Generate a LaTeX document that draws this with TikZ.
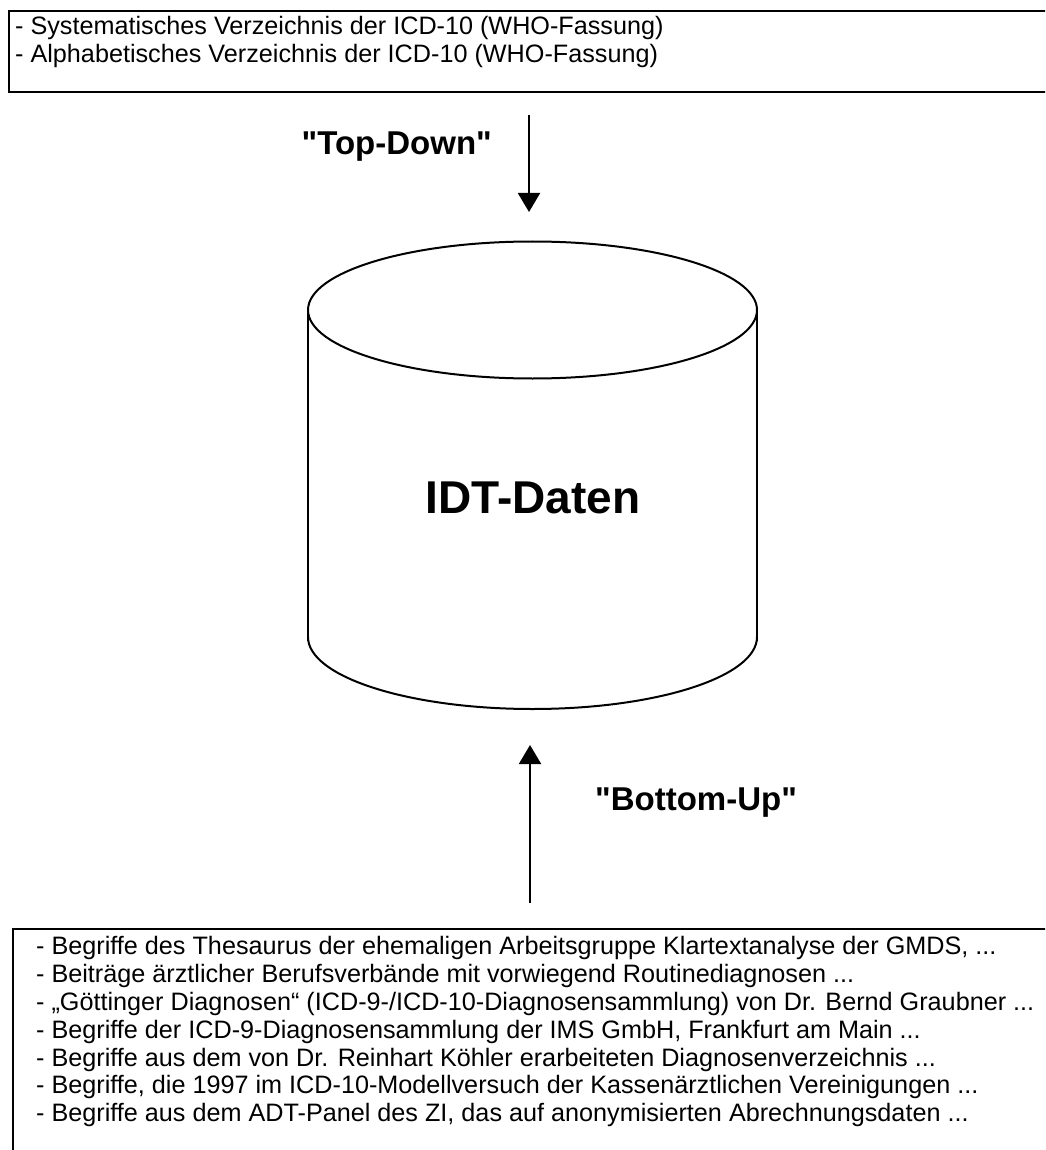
\documentclass[tikz,border=0pt]{standalone}
\usepackage{fontspec}
\setmainfont{Liberation Sans}[Ligatures=TeXOff]
\usetikzlibrary{arrows.meta}
\begin{document}
\begin{tikzpicture}[x=1pt,y=-1pt,
  frame/.style={draw, line width=2pt, inner sep=0pt, anchor=north west},
  entry/.style={anchor=base west, inner sep=0pt, font=\fontsize{25.2}{28}\selectfont},
  flowlabel/.style={inner sep=0pt, font=\bfseries\fontsize{33}{36}\selectfont},
  flow/.style={line width=2pt, -{Triangle[width=22pt,length=19pt]}},
  cyl/.style={line width=2pt}]
\useasboundingbox (0,0) rectangle (1045,1150);
\clip (0,0) rectangle (1045,1150);

% source list (top)
\node[frame, minimum width=1070pt, minimum height=81pt] (srcbox) at (8,10) {};
\node[entry] (s1) at (15,35) {- Systematisches Verzeichnis der ICD-10 (WHO-Fassung)};
\node[entry] (s2) at (15,63) {- Alphabetisches Verzeichnis der ICD-10 (WHO-Fassung)};

% database cylinder
\draw[cyl] (532.5,310) ellipse [x radius=224.5pt, y radius=68.5pt];
\draw[cyl] (308,310) -- (308,641);
\draw[cyl] (757,310) -- (757,641);
\draw[cyl] (308,637) arc[start angle=180, end angle=360, x radius=224.5pt, y radius=72pt];
\coordinate (dbtop) at (532.5,241.5);
\coordinate (dbbottom) at (532.5,709);
\node[inner sep=0pt, font=\bfseries\fontsize{46}{48}\selectfont] (db) at (533,498) {IDT-Daten};

% source list (bottom)
\node[frame, minimum width=1070pt, minimum height=260pt] (tgtbox) at (12,928) {};
\node[entry] (b1) at (36,954) {- Begriffe des Thesaurus der ehemaligen Arbeitsgruppe Klartextanalyse der GMDS, ...};
\node[entry] (b2) at (36,982) {- Beiträge ärztlicher Berufsverbände mit vorwiegend Routinediagnosen ...};
\node[entry] (b3) at (36,1010) {- „Göttinger Diagnosen“ (ICD-9-/ICD-10-Diagnosensammlung) von Dr. Bernd Graubner ...};
\node[entry] (b4) at (36,1038) {- Begriffe der ICD-9-Diagnosensammlung der IMS GmbH, Frankfurt am Main ...};
\node[entry] (b5) at (36,1066) {- Begriffe aus dem von Dr. Reinhart Köhler erarbeiteten Diagnosenverzeichnis ...};
\node[entry] (b6) at (36,1093) {- Begriffe, die 1997 im ICD-10-Modellversuch der Kassenärztlichen Vereinigungen ...};
\node[entry] (b7) at (36,1121) {- Begriffe aus dem ADT-Panel des ZI, das auf anonymisierten Abrechnungsdaten ...};

% flows
\coordinate (tdcol) at (529,0);
\coordinate (bucol) at (530,0);
\draw[flow, shorten <=22pt, shorten >=29.5pt] (srcbox.south -| tdcol) -- (dbtop -| tdcol);
\draw[flow, shorten <=25pt, shorten >=36pt] (tgtbox.north -| bucol) -- (dbbottom -| bucol);
\node[flowlabel, anchor=north east] (td) at (492,132) {"Top-Down"};
\node[flowlabel, anchor=north west] (bu) at (595,788) {"Bottom-Up"};
\end{tikzpicture}
\end{document}
